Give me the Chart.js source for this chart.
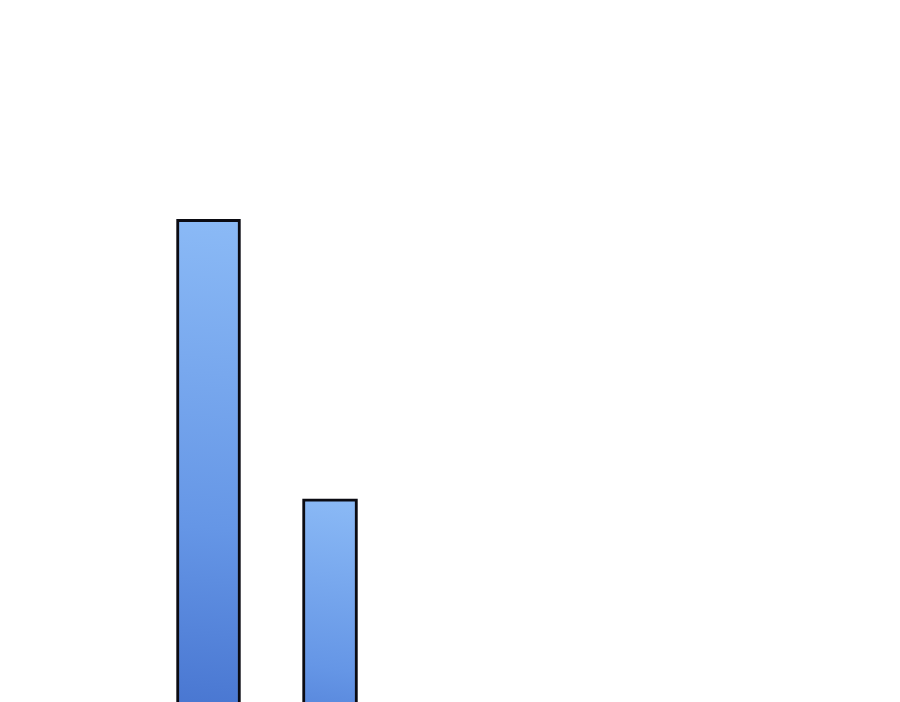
<!DOCTYPE html>
<html>
<head>
<meta charset="utf-8">
<script src="https://cdn.jsdelivr.net/npm/chart.js@4.4.1/dist/chart.umd.min.js"></script>
<style>
  html, body { margin: 0; padding: 0; background: #fff; overflow: hidden; }
  #wrap { width: 900px; height: 702px; overflow: hidden; }
  #box { width: 900px; height: 837px; }
</style>
</head>
<body>
<div id="wrap"><div id="box"><canvas id="barChart"></canvas></div></div>
<script>
// bars: position on x, height on y (baseline sits below the visible frame)
const positions = [1, 2];
const values = [73.8, 40.4];
const thickness = [64, 55];

const TOP_COLOR = '#8bbaf6';
const BASE_COLOR = '#3560c2';

function barGradient(ctx) {
    const chart = ctx.chart;
    const area = chart.chartArea;
    if (!area) return TOP_COLOR;
    const x = chart.scales.x.getPixelForValue(ctx.raw.x);
    const y = chart.scales.y.getPixelForValue(ctx.raw.y);
    const half = thickness[ctx.datasetIndex] / 2;
    const g = chart.ctx.createLinearGradient(x + half, y, x - half, area.bottom);
    g.addColorStop(0, TOP_COLOR);
    g.addColorStop(0.5, '#6596e6');
    g.addColorStop(1, BASE_COLOR);
    return g;
}

const datasets = positions.map((p, i) => ({
    data: [{ x: p, y: values[i] }],
    barThickness: thickness[i],
    backgroundColor: barGradient,
    borderColor: '#0b0b12',
    borderWidth: 3,
    borderSkipped: 'start',
    grouped: false
}));

const chartContext = document.getElementById('barChart').getContext('2d');
const chart = new Chart(chartContext, {
    type: 'bar',
    data: { datasets: datasets },
    options: {
        responsive: true,
        maintainAspectRatio: false,
        animation: false,
        layout: { padding: 0 },
        plugins: { legend: { display: false }, tooltip: { enabled: false } },
        scales: {
            x: { type: 'linear', offset: false, min: -0.716, max: 6.691, display: false },
            y: { min: 0, max: 100, display: false }
        }
    }
});
</script>
</body>
</html>
